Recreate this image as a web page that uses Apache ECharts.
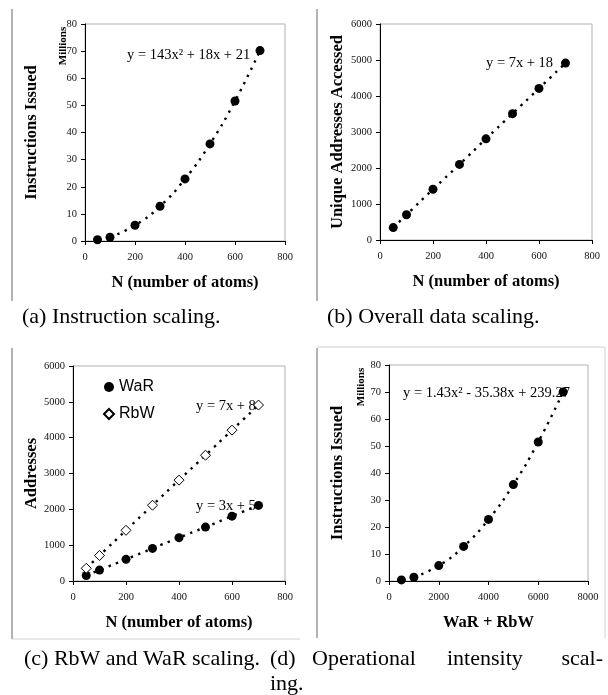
<!DOCTYPE html>
<html><head><meta charset="utf-8">
<script src="https://cdn.jsdelivr.net/npm/echarts@6/dist/echarts.min.js"></script>
<style>html,body{margin:0;padding:0;background:#fff;}#c{width:608px;height:695px;}</style>
</head><body><div id="c"></div>
<script>
// ---- data ----
const atomsN = [50, 100, 200, 300, 400, 500, 600, 700];
const instrMillions = [0.45, 1.4, 5.8, 12.8, 22.9, 35.8, 51.6, 70.2];
const uniqueAddr = [345, 700, 1410, 2100, 2810, 3510, 4210, 4915];
const warAddr = [155, 305, 605, 910, 1210, 1505, 1810, 2110];
const rbwAddr = [355, 710, 1415, 2115, 2815, 3510, 4210, 4910];
const warPlusRbw = [500, 1000, 2000, 3000, 4000, 5000, 6000, 7000];
const instrMillionsD = [0.4, 1.4, 5.7, 12.8, 22.8, 35.7, 51.5, 70.0];
const atomTicks = [0, 200, 400, 600, 800];
const sumTicks = [0, 2000, 4000, 6000, 8000];
const millionTicks = [0, 10, 20, 30, 40, 50, 60, 70, 80];
const addrTicks = [0, 1000, 2000, 3000, 4000, 5000, 6000];

const SERIF = '"Liberation Serif", "Times New Roman", serif';
const SANS = '"Liberation Sans", Arial, sans-serif';

const zip = (xs, ys) => xs.map((x, i) => [x, ys[i]]);

function xAx(gi, ticks, name) {
  return {
    type: 'value', gridIndex: gi, min: ticks[0], max: ticks[ticks.length - 1],
    interval: ticks[1] - ticks[0], name: name, nameLocation: 'middle', nameGap: 33,
    nameTextStyle: {fontFamily: SERIF, fontWeight: 'bold', fontSize: 16.5, color: '#000'},
    axisLine: {show: true, onZero: false, lineStyle: {color: '#000', width: 1}},
    axisTick: {show: true, length: 4, lineStyle: {color: '#000'}},
    splitLine: {show: false},
    axisLabel: {fontFamily: SERIF, fontSize: 10.5, color: '#111', margin: 11, formatter: v => String(v)}
  };
}
function yAx(gi, ticks, name, gap) {
  return {
    type: 'value', gridIndex: gi, min: ticks[0], max: ticks[ticks.length - 1],
    interval: ticks[1] - ticks[0], name: name, nameLocation: 'middle', nameGap: gap,
    nameTextStyle: {fontFamily: SERIF, fontWeight: 'bold', fontSize: 16.5, color: '#000'},
    axisLine: {show: true, onZero: false, lineStyle: {color: '#000', width: 1}},
    axisTick: {show: true, length: 4, lineStyle: {color: '#000'}},
    splitLine: {show: false},
    axisLabel: {fontFamily: SERIF, fontSize: 10.5, color: '#111', margin: 8, formatter: v => String(v)}
  };
}
function dots(name, gi, xs, ys, symbol) {
  const empty = symbol === 'diamond';
  return {
    name: name, type: 'scatter', xAxisIndex: gi, yAxisIndex: gi, data: zip(xs, ys),
    symbol: symbol, symbolSize: empty ? 10 : 9, z: 5,
    itemStyle: {color: empty ? '#fff' : '#000', borderColor: '#000', borderWidth: empty ? 1 : 0, opacity: 1},
    emphasis: {disabled: true}
  };
}
function trend(name, gi, xs, ys) {
  return {
    name: name, type: 'line', xAxisIndex: gi, yAxisIndex: gi, data: zip(xs, ys),
    smooth: 0.5, showSymbol: false, symbol: 'none', z: 3,
    lineStyle: {color: '#000', width: 2.4, type: [2.4, 5.6]},
    emphasis: {disabled: true}, silent: true
  };
}
function txt(x, y, text, opts) {
  return {
    type: 'text', x: x, y: y,
    style: Object.assign({text: text, fill: '#000', font: '14.5px ' + SERIF, align: 'left', verticalAlign: 'middle'}, opts || {})
  };
}
function line(x1, y1, x2, y2, color) {
  return {type: 'line', shape: {x1: x1, y1: y1, x2: x2, y2: y2}, style: {stroke: color, lineWidth: 1}, silent: true};
}

const capFont = '22px ' + SERIF;

const chart = echarts.init(document.getElementById('c'), null, {renderer: 'canvas'});
const gridStyle = {show: true, borderColor: '#b0b0b0', borderWidth: 1, backgroundColor: 'transparent', containLabel: false};
chart.setOption({
  animation: false,
  backgroundColor: '#fff',
  grid: [
    Object.assign({left: 85, top: 24, width: 200, height: 217}, gridStyle),
    Object.assign({left: 380, top: 24, width: 212, height: 216}, gridStyle),
    Object.assign({left: 73, top: 366, width: 212, height: 215}, gridStyle),
    Object.assign({left: 389, top: 365, width: 199, height: 216}, gridStyle)
  ],
  xAxis: [
    xAx(0, atomTicks, 'N (number of atoms)'),
    xAx(1, atomTicks, 'N (number of atoms)'),
    xAx(2, atomTicks, 'N (number of atoms)'),
    xAx(3, sumTicks, 'WaR + RbW')
  ],
  yAxis: [
    yAx(0, millionTicks, 'Instructions Issued', 45),
    yAx(1, addrTicks, 'Unique Addresses Accessed', 34),
    yAx(2, addrTicks, 'Addresses', 32),
    yAx(3, millionTicks, 'Instructions Issued', 43)
  ],
  legend: {
    show: true, orient: 'vertical', left: 103, top: 379, itemGap: 11, padding: 0,
    itemWidth: 10, itemHeight: 10,
    textStyle: {fontFamily: SANS, fontSize: 16, color: '#000'},
    data: [{name: 'WaR', icon: 'circle'}, {name: 'RbW', icon: 'diamond'}],
    selectedMode: false
  },
  series: [
    trend('a-trend', 0, atomsN.slice(1), instrMillions.slice(1)),
    dots('a-points', 0, atomsN, instrMillions, 'circle'),
    trend('b-trend', 1, atomsN, uniqueAddr),
    dots('b-points', 1, atomsN, uniqueAddr, 'circle'),
    trend('c-trend-rbw', 2, atomsN, rbwAddr),
    trend('c-trend-war', 2, atomsN, warAddr),
    dots('WaR', 2, atomsN, warAddr, 'circle'),
    dots('RbW', 2, atomsN, rbwAddr, 'diamond'),
    trend('d-trend', 3, warPlusRbw.slice(1), instrMillionsD.slice(1)),
    dots('d-points', 3, warPlusRbw, instrMillionsD, 'circle')
  ],
  graphic: [
    // panel frames
    line(12, 9, 12, 301, '#666'),
    line(317, 9, 317, 301, '#666'),
    line(12, 348, 12, 639, '#666'),
    line(12, 639, 300, 639, '#cfcfcf'),
    line(317, 348, 317, 638, '#666'),
    line(317, 347, 605, 347, '#cfcfcf'),
    line(605, 347, 605, 638, '#cfcfcf'),
    // Millions units
    {type: 'text', x: 63, y: 46, rotation: Math.PI / 2,
     style: {text: 'Millions', fill: '#000', font: 'bold 11px ' + SERIF, align: 'center', verticalAlign: 'middle'}},
    {type: 'text', x: 361, y: 387, rotation: Math.PI / 2,
     style: {text: 'Millions', fill: '#000', font: 'bold 11px ' + SERIF, align: 'center', verticalAlign: 'middle'}},
    // equations
    txt(127, 55, 'y = 143x² + 18x + 21'),
    txt(486, 63, 'y = 7x + 18'),
    txt(196, 406, 'y = 7x + 8'),
    txt(196, 506, 'y = 3x + 5'),
    txt(403, 393, 'y = 1.43x² - 35.38x + 239.27'),
    // captions
    txt(22, 317, '(a) Instruction scaling.', {font: capFont}),
    txt(327, 317, '(b) Overall data scaling.', {font: capFont}),
    txt(24, 659, '(c) RbW and WaR scaling.', {font: capFont}),
    txt(270, 659, '(d)', {font: capFont}),
    txt(312, 659, 'Operational', {font: capFont}),
    txt(447, 659, 'intensity', {font: capFont}),
    txt(603, 659, 'scal-', {font: capFont, align: 'right'}),
    txt(270, 684, 'ing.', {font: capFont})
  ]
});
</script>
</body></html>
